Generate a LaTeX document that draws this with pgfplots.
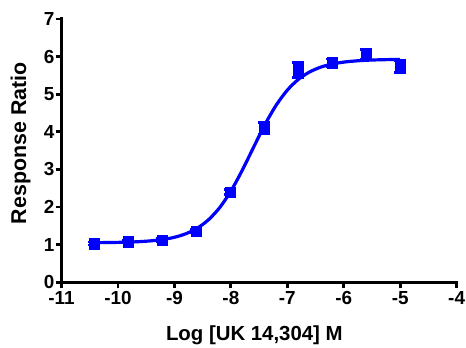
\documentclass[border=0pt]{standalone}
\usepackage{pgfplots}
\pgfplotsset{compat=1.18}
\usepackage{fontspec}
\setmainfont{Liberation Sans}
\definecolor{gpblue}{RGB}{0,0,255}
\begin{document}
\begin{tikzpicture}
\begin{axis}[
  at={(0,0)}, anchor=south west,
  scale only axis, width=396bp, height=264bp,
  xmin=-11, xmax=-4, ymin=0, ymax=7,
  axis lines*=left,
  axis line style={line width=3bp, line cap=rect},
  xtick={-11,...,-4}, ytick={0,...,7},
  tick style={line width=2.8bp, black},
  tick align=outside, major tick length=6bp,
  /pgf/number format/assume math mode=true,
  tick label style={font=\bfseries\fontsize{19}{20}\selectfont, inner sep=1bp},
  xticklabel style={yshift=-2bp},
  yticklabel style={xshift=0bp},
  xlabel={Log [UK 14,304] M},
  ylabel={Response Ratio},
  xlabel style={font=\bfseries\fontsize{20.5}{22}\selectfont, at={(axis description cs:0.488,-0.2)}, anchor=center},
  ylabel style={font=\bfseries\fontsize{21.5}{22}\selectfont, at={(axis description cs:-0.1035,0.528)}, anchor=center},
  clip=false,
]
\addplot[gpblue, line width=3.2bp, smooth, no marks] coordinates {
(-10.42,1.054) (-10.2,1.057) (-10.0,1.062) (-9.8,1.070) (-9.6,1.083) (-9.4,1.105)
(-9.2,1.140) (-9.0,1.197) (-8.8,1.290) (-8.6,1.435) (-8.4,1.658) (-8.2,1.982)
(-8.0,2.424) (-7.8,2.973) (-7.6,3.582) (-7.4,4.182) (-7.2,4.701) (-7.0,5.107)
(-6.8,5.399) (-6.6,5.595) (-6.4,5.723) (-6.2,5.803) (-6.0,5.853) (-5.8,5.883)
(-5.6,5.902) (-5.4,5.913) (-5.2,5.920) (-5.0,5.924)
};
\addplot[gpblue, only marks, mark=square*, mark size=5.3bp,
  error bars/.cd, y dir=both, y explicit,
  error bar style={line width=2.6bp, gpblue},
  error mark options={rotate=90, mark size=6bp, line width=2.6bp, gpblue}]
  table[x=x, y=y, y error=e] {
x y e
-10.418 1.03 0.04
-9.816 1.08 0.04
-9.214 1.12 0.05
-8.612 1.36 0.05
-8.010 2.40 0.07
-7.408 4.09 0.15
-6.806 5.65 0.20
-6.204 5.84 0.10
-5.602 6.06 0.13
-5.000 5.74 0.16
};
\end{axis}
\path (-61.7bp,-63bp) rectangle (404.3bp,283bp);
\end{tikzpicture}
\end{document}
